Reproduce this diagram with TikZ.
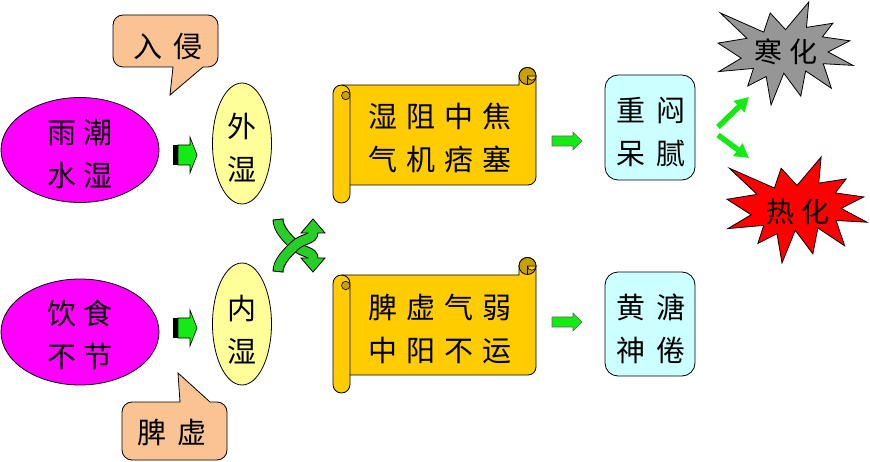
\documentclass[tikz,border=0pt]{standalone}
\usepackage{fontspec}
\newfontfamily\cjk{Noto Sans CJK SC}
\usetikzlibrary{arrows.meta,shapes.geometric}
\definecolor{magentaF}{RGB}{255,0,255}
\definecolor{paleY}{RGB}{255,255,153}
\definecolor{salmonF}{RGB}{250,195,148}
\definecolor{goldF}{RGB}{255,204,0}
\definecolor{goldD}{RGB}{200,160,0}
\definecolor{cyanF}{RGB}{204,255,255}
\definecolor{grayF}{RGB}{150,150,150}
\definecolor{redF}{RGB}{255,0,0}
\definecolor{brightG}{RGB}{20,235,20}
\definecolor{crossG}{RGB}{40,205,40}
\newcommand\gapA{\hspace{7pt}}
\newcommand\gapS{\hspace{9pt}}
\newcommand\gapC{\hspace{11pt}}
\newcommand\gapE{\hspace{8pt}}
\newcommand\scrollshape{%
 \filldraw[fill=goldF, line width=0.8] (341.5,-85) -- (519,-85) -- (519,-76)
   arc[start angle=180,end angle=0,radius=8.5] -- (536,-177)
   arc[start angle=0,end angle=-90,radius=8] -- (350,-185) -- (350,-194.5)
   arc[start angle=0,end angle=-180,radius=8.5] -- (333,-93.5)
   arc[start angle=180,end angle=90,radius=8.5] -- cycle;
 \draw[line width=0.8] (341.5,-85) arc[start angle=90,end angle=0,radius=8.5] -- (350,-185);
 \filldraw[fill=goldD, line width=0.6] (345.75,-95.5) circle (4.25);
 \filldraw[fill=goldD, line width=0.8] (527.5,-76) circle (8.5);
 \filldraw[fill=goldF, line width=0.6] (536,-76) arc[start angle=0,end angle=-180,radius=4.25] -- cycle;
 \draw[line width=0.8] (527.5,-76) -- (527.5,-85);
}
\newcommand\explosionpath{(108,58) -- (145.22,0) -- (141.55,53.25) -- (183.80,44.57) -- (167.02,73.15) -- (210.97,81.37) -- (176.07,104.75) -- (216,132.90) -- (168.37,129.42) -- (181.45,180.95) -- (140.20,144.57) -- (132.47,197.37) -- (105.32,149.35) -- (84.85,216) -- (77.15,156.27) -- (47.62,176.17) -- (56.67,139.37) -- (1.35,145.87) -- (37.22,117.75) -- (0,86.15) -- (46.27,76.17) -- (3.70,22.95) -- (73.12,63.20) -- (83.52,22.95) -- cycle}
\newcommand\bandA{(278,-219) .. controls (278,-229) and (287,-238) .. (295,-245.5) .. controls (303,-253) and (313,-251) .. (313,-259)}
\newcommand\bandB{(278,-272) .. controls (278,-262) and (287,-253) .. (295,-245.5) .. controls (303,-238) and (313,-240) .. (313,-232)}
\begin{document}
\begin{tikzpicture}[x=1pt,y=1pt,
  txt/.style={font=\cjk\fontsize{29}{43}\selectfont, align=center, inner sep=0pt},
  outl/.style={draw=black, line width=0.8}]
\useasboundingbox (0,0) rectangle (870,-462);
\fill[white] (0,0) rectangle (870,-462);

% magenta ellipses
\node[ellipse, outl, fill=magentaF, minimum width=158, minimum height=105, inner sep=0] (e1) at (80,-150) {};
\node[txt] (t1) at (80,-154) {雨\gapA 潮\\水\gapA 湿};
\node[ellipse, outl, fill=magentaF, minimum width=158, minimum height=106, inner sep=0] (e2) at (80,-332) {};
\node[txt] (t2) at (80,-335) {饮\gapA 食\\不\gapA 节};

% callouts
\filldraw[fill=salmonF, line width=0.8] (123,-15) -- (208,-15) arc[start angle=90,end angle=0,radius=10]
  -- (218,-57) arc[start angle=0,end angle=-90,radius=10] -- (203,-67) -- (170,-95) -- (173,-67)
  -- (123,-67) arc[start angle=270,end angle=180,radius=10] -- (113,-25)
  arc[start angle=180,end angle=90,radius=10] -- cycle;
\node[txt] (k1) at (168,-47) {入\gapC 侵};
\filldraw[fill=salmonF, line width=0.8] (132,-402) -- (180,-402) -- (178,-373) -- (210,-402) -- (217,-402)
  arc[start angle=90,end angle=0,radius=10] -- (227,-450) arc[start angle=0,end angle=-90,radius=10]
  -- (132,-460) arc[start angle=270,end angle=180,radius=10] -- (122,-412)
  arc[start angle=180,end angle=90,radius=10] -- cycle;
\node[txt] (k2) at (172,-432) {脾\gapC 虚};

% small block arrows
\foreach \dy in {0,-173}{
 \begin{scope}[yshift=\dy]
  \fill[black] (173,-145) rectangle (178,-165);
  \filldraw[fill=brightG, line width=0.6] (178,-145) -- (190,-145) -- (190,-137) -- (197,-155) -- (190,-173) -- (190,-165) -- (178,-165) -- cycle;
 \end{scope}
}

% yellow ellipses
\node[ellipse, outl, fill=paleY, minimum width=59, minimum height=121, inner sep=0] (y1) at (242,-143.5) {};
\node[txt] (u1) at (242,-148) {外\\湿};
\node[ellipse, outl, fill=paleY, minimum width=59, minimum height=122, inner sep=0] (y2) at (242,-324) {};
\node[txt] (u2) at (242,-330) {内\\湿};

% crossing arrows
\draw[line width=11, black] \bandA;
\draw[line width=9, crossG, shorten <=1pt] \bandA;
\filldraw[fill=crossG, line width=0.8] (308.5,-258) -- (301,-258) -- (313,-272) -- (325,-258) -- (317.5,-258);
\draw[line width=11, black] \bandB;
\draw[line width=9, crossG, shorten <=1pt] \bandB;
\filldraw[fill=crossG, line width=0.8] (308.5,-233) -- (301,-233) -- (313,-219) -- (325,-233) -- (317.5,-233);

% scrolls
\scrollshape
\node[txt] (s1) at (440,-138) {湿\gapS 阻\gapS 中\gapS 焦\\气\gapS 机\gapS 痞\gapS 塞};
\begin{scope}[yshift=-190]
\scrollshape
\end{scope}
\node[txt] (s2) at (440,-329) {脾\gapS 虚\gapS 气\gapS 弱\\中\gapS 阳\gapS 不\gapS 运};

% right block arrows
\foreach \dy in {0,-181}{
 \begin{scope}[yshift=\dy]
  \filldraw[fill=brightG, draw=black!60, line width=0.6] (552,-136) -- (573,-136) -- (573,-132) -- (582,-141) -- (573,-150) -- (573,-146) -- (552,-146) -- cycle;
 \end{scope}
}

% cyan boxes
\node[outl, fill=cyanF, rounded corners=13, minimum width=90, minimum height=105, inner sep=0] (c1) at (650,-127.5) {};
\node[txt] (r1) at (651,-132) {重\gapC 闷\\呆\gapC 腻};
\node[outl, fill=cyanF, rounded corners=13, minimum width=90, minimum height=104, inner sep=0] (c2) at (650,-324) {};
\node[txt] (r2) at (651,-329) {黄\gapC 溏\\神\gapC 倦};

% V arrows
\draw[brightG, line width=5.5, -{Triangle[length=14pt,width=15pt]}] (718,-127) -- (749,-97);
\draw[brightG, line width=5.5, -{Triangle[length=14pt,width=15pt]}] (718,-135) -- (749,-158);

% explosions
\begin{scope}[shift={(718,-2)}, x=135/216*1pt, y=-103/216*1pt]
 \filldraw[fill=grayF, line width=0.8] \explosionpath;
\end{scope}
\node[txt, font=\cjk\fontsize{28}{40}\selectfont] (x1) at (786,-52) {寒\gapE 化};
\begin{scope}[shift={(727,-157)}, x=140/216*1pt, y=-106/216*1pt]
 \filldraw[fill=redF, line width=0.8] \explosionpath;
\end{scope}
\node[txt, font=\cjk\fontsize{28}{40}\selectfont] (x2) at (798,-212) {热\gapE 化};
\end{tikzpicture}
\end{document}
